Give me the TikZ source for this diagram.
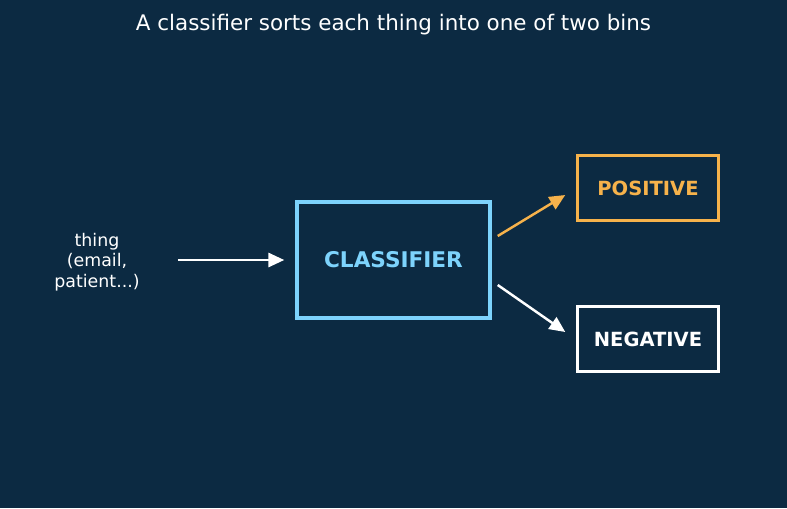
\documentclass[tikz,border=0pt]{standalone}
\usepackage{fontspec}
\setmainfont{DejaVu Sans}
\usepackage{tikz}
\usetikzlibrary{arrows.meta, calc}
\definecolor{bgnavy}{RGB}{12,42,66}
\definecolor{skyblue}{RGB}{125,211,252}
\definecolor{amber}{RGB}{246,178,75}

\begin{document}
\begin{tikzpicture}[x=0.02cm, y=-0.02cm,
    box/.style={draw, line width=1.4pt, minimum width=2.82cm, minimum height=1.3cm, font=\bfseries\fontsize{11.1}{13}\selectfont},
    link/.style={line width=1.4pt, -{Triangle[length=9pt,width=8pt]}}]
  \useasboundingbox[fill=bgnavy] (0,0) rectangle (787,508);
  \node[white, font=\fontsize{12.2}{14}\selectfont] (title) at (393.5,25) {A classifier sorts each thing into one of two bins};
  \node[white, align=center, font=\fontsize{9.9}{11.6}\selectfont] (thing) at (97,262) {thing\\(email,\\patient...)};
  \node[draw=skyblue, text=skyblue, line width=2pt, minimum width=3.86cm, minimum height=2.32cm,
        font=\bfseries\fontsize{12.3}{14}\selectfont] (clf) at (393.5,260) {CLASSIFIER};
  \node[box, draw=amber, text=amber] (pos) at (648,188) {POSITIVE};
  \node[box, draw=white, text=white] (neg) at (648,339) {NEGATIVE};
  % arrows in and out
  \coordinate (in) at ($(thing.east)+(32,-2)$);
  \draw[link, white] (in) -- ($(clf.west)+(-11,0)$);
  \draw[link, amber] ($(clf.east)+(6,-24)$) -- ($(pos.west)+(-11,7)$);
  \draw[link, white] ($(clf.east)+(6,25)$) -- ($(neg.west)+(-11,-7)$);
\end{tikzpicture}
\end{document}
